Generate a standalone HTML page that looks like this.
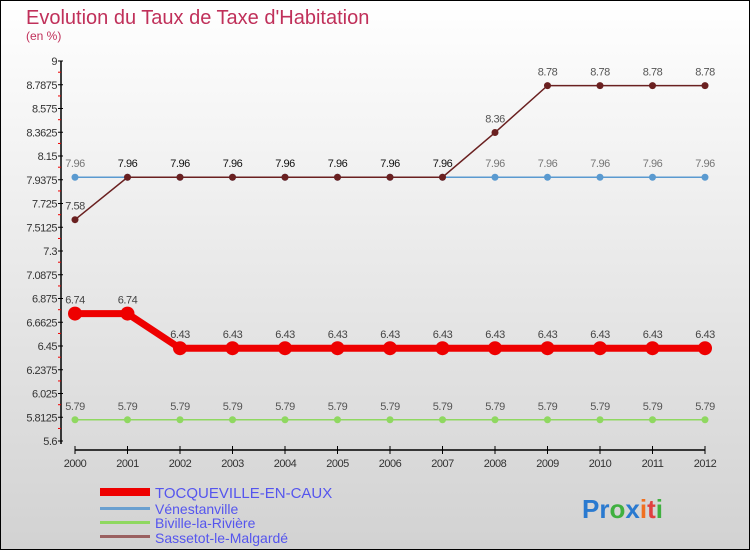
<!DOCTYPE html>
<html><head><meta charset="utf-8"><style>
body{margin:0;width:750px;height:550px;overflow:hidden}
svg{display:block;font-family:"Liberation Sans",sans-serif}
</style></head><body>
<svg id="c" width="750" height="550" viewBox="0 0 750 550">
<defs><linearGradient id="bg" x1="0" y1="0" x2="0" y2="1"><stop offset="0" stop-color="#ffffff"/><stop offset="1" stop-color="#d2d2d2"/></linearGradient></defs>
<rect x="0.5" y="0.5" width="749" height="549" fill="url(#bg)" stroke="#000"/>
<text x="26" y="24" font-size="20" fill="#c0305a">Evolution du Taux de Taxe d'Habitation</text>
<text x="26" y="40" font-size="12" fill="#c0305a">(en %)</text>
<g id="axes"></g><g id="series"></g>
<g>
<rect x="100" y="488" width="50" height="8" fill="#e00"/>
<text x="155" y="498" font-size="15" fill="#5555ee">TOCQUEVILLE-EN-CAUX</text>
<rect x="100" y="507" width="50" height="3" fill="#6aa0d0"/>
<text x="155" y="514" font-size="14" fill="#5555ee">Vénestanville</text>
<rect x="100" y="521" width="50" height="3" fill="#8fd860"/>
<text x="155" y="528" font-size="14" fill="#5555ee">Biville-la-Rivière</text>
<rect x="100" y="535" width="50" height="3" fill="#9a6060"/>
<text x="155" y="543" font-size="14" fill="#5555ee">Sassetot-le-Malgardé</text>
</g>
<text x="582" y="518" font-size="26" font-weight="bold"><tspan fill="#2a7ad0">Pr</tspan><tspan fill="#40b040">o</tspan><tspan fill="#2a7ad0">x</tspan><tspan fill="#f07020">i</tspan><tspan fill="#e04040">t</tspan><tspan fill="#40b040">i</tspan></text>
</svg>
<script>
const years=[2000,2001,2002,2003,2004,2005,2006,2007,2008,2009,2010,2011,2012];
const yTicks=["9","8.7875","8.575","8.3625","8.15","7.9375","7.725","7.5125","7.3","7.0875","6.875","6.6625","6.45","6.2375","6.025","5.8125","5.6"];
const tocqueville=[6.74,6.74,6.43,6.43,6.43,6.43,6.43,6.43,6.43,6.43,6.43,6.43,6.43];
const venestanville=[7.96,7.96,7.96,7.96,7.96,7.96,7.96,7.96,7.96,7.96,7.96,7.96,7.96];
const biville=[5.79,5.79,5.79,5.79,5.79,5.79,5.79,5.79,5.79,5.79,5.79,5.79,5.79];
const sassetot=[7.58,7.96,7.96,7.96,7.96,7.96,7.96,7.96,8.36,8.78,8.78,8.78,8.78];
const NS="http://www.w3.org/2000/svg";
const X=i=>75+i*(630/(years.length-1));
const Y=v=>61+(9-v)/3.4*380;
function mk(t,a,p){const e=document.createElementNS(NS,t);for(const k in a)e.setAttribute(k,a[k]);p.appendChild(e);return e;}
const ax=document.getElementById('axes');
mk('line',{x1:61,y1:61,x2:61,y2:444,stroke:'#000','stroke-width':1.5},ax);
mk('line',{x1:75,y1:450,x2:705,y2:450,stroke:'#000','stroke-width':1.5},ax);
yTicks.forEach(t=>{const v=parseFloat(t),y=Y(v);
 mk('line',{x1:58,y1:y,x2:63,y2:y,stroke:'#000'},ax);
 mk('line',{x1:58,y1:y+11.2,x2:61,y2:y+11.2,stroke:v>5.7?'#e00':'none'},ax);
 const tx=mk('text',{x:57,y:y+4,'font-size':11,'text-anchor':'end',fill:'#333','letter-spacing':'-0.5'},ax);tx.textContent=t;
 
 });
years.forEach((yr,i)=>{const x=X(i);
 mk('line',{x1:x,y1:446,x2:x,y2:454,stroke:'#000'},ax);
 const tx=mk('text',{x:x,y:467,'font-size':11,'text-anchor':'middle',fill:'#333','letter-spacing':'-0.5'},ax);tx.textContent=yr;
 
 });
const sg=document.getElementById('series');
function draw(vals,color,w,r,name,labels){
 const g=mk('g',{},sg);
 
 
 mk('polyline',{points:vals.map((v,i)=>X(i)+','+Y(v)).join(' '),fill:'none',stroke:color,'stroke-width':w},g);
 vals.forEach((v,i)=>{const c=mk('circle',{cx:X(i),cy:Y(v),r:r,fill:color},g);
  
  
  if(labels&&labels[i]){const t=mk('text',{x:X(i),y:Y(v)-10,'font-size':11,'text-anchor':'middle',fill:labels[i],'letter-spacing':'-0.5'},g);t.textContent=String(v);
   
   }});
}
draw(biville,'#8fd860',1.5,3.5,'series-biville',biville.map(()=> '#555'));
draw(venestanville,'#5a9ad0',1.5,3.5,'series-venestanville',venestanville.map((v,i)=>(i==0||i>=8)?'#777':null));
draw(sassetot,'#6a2020',1.5,3.5,'series-sassetot',sassetot.map((v,i)=>(i>=1&&i<=7)?'#111':(i==0?'#444':'#555')));
draw(tocqueville,'#ee0000',7,7,'series-tocqueville',tocqueville.map(()=> '#444'));
</script>
</body></html>
